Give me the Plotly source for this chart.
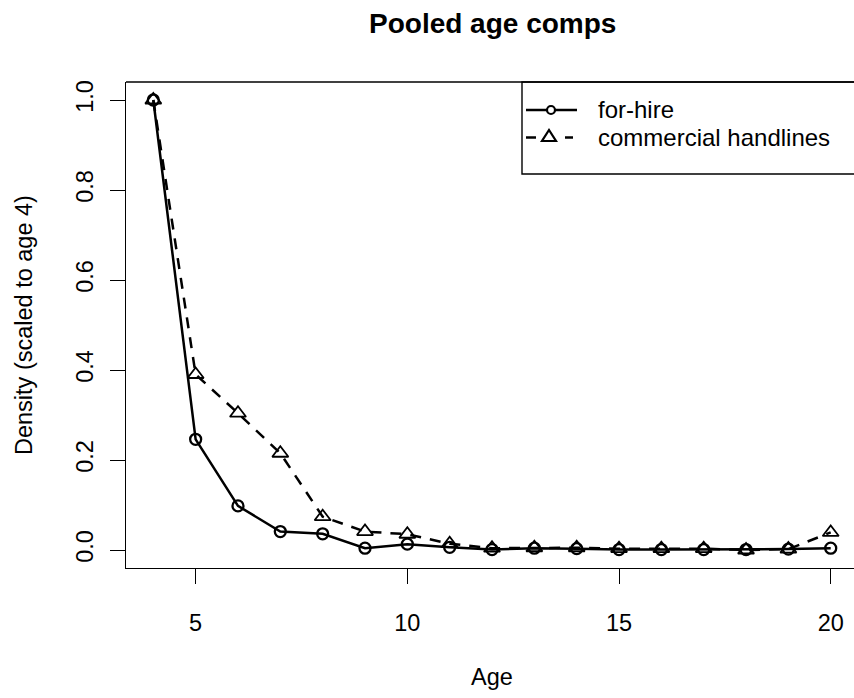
import plotly.graph_objects as go

ages = list(range(4, 21))
for_hire = [1.0, 0.246, 0.098, 0.041, 0.036, 0.004, 0.013, 0.006, 0.001,
            0.004, 0.003, 0.001, 0.001, 0.001, 0.001, 0.002, 0.004]
commercial = [1.0, 0.390, 0.304, 0.215, 0.074, 0.041, 0.035, 0.014, 0.004,
              0.005, 0.005, 0.003, 0.003, 0.003, 0.000, 0.002, 0.039]
series_names = ["for-hire", "commercial handlines"]
x_ticks = [5, 10, 15, 20]
y_ticks = [0.0, 0.2, 0.4, 0.6, 0.8, 1.0]
y_tick_text = ["0.0", "0.2", "0.4", "0.6", "0.8", "1.0"]

W, H = 854, 698
L, R, T, B = 126, 0, 82, 130
PW, PH = W - L - R, H - T - B
FONT = "Liberation Sans, Arial, Helvetica, sans-serif"

def px(x):
    return (x - L) / PW

def py(y):
    return (T + PH - y) / PH

fig = go.Figure()
fig.add_trace(go.Scatter(
    x=ages, y=for_hire, mode="lines+markers", name=series_names[0],
    line=dict(color="black", width=2.5),
    marker=dict(symbol="circle-open", size=11, color="black", line=dict(width=2.3)),
    showlegend=False, cliponaxis=False))
fig.add_trace(go.Scatter(
    x=ages, y=commercial, mode="lines+markers", name=series_names[1],
    line=dict(color="black", width=2.5, dash="11px,9px"),
    marker=dict(symbol="triangle-up-open", size=14, color="black", line=dict(width=1.8)),
    showlegend=False, cliponaxis=False))

shapes = []
# top frame line
shapes.append(dict(type="line", xref="paper", yref="paper", x0=0, x1=1.02, y0=1, y1=1,
                   line=dict(color="black", width=1.4)))
# legend box
shapes.append(dict(type="rect", xref="paper", yref="paper", x0=px(522), x1=1.05,
                   y0=py(174), y1=1, line=dict(color="black", width=1.4)))
# legend symbol lines
shapes.append(dict(type="line", xref="paper", yref="paper", x0=px(526), x1=px(577),
                   y0=py(110), y1=py(110), line=dict(color="black", width=2.5)))
shapes.append(dict(type="line", xref="paper", yref="paper", x0=px(526), x1=px(536),
                   y0=py(137.5), y1=py(137.5), line=dict(color="black", width=2.5)))
shapes.append(dict(type="line", xref="paper", yref="paper", x0=px(565), x1=px(573),
                   y0=py(137.5), y1=py(137.5), line=dict(color="black", width=2.5)))
# legend markers
shapes.append(dict(type="circle", xref="paper", yref="paper", xsizemode="pixel", ysizemode="pixel",
                   xanchor=px(551), yanchor=py(110), x0=-4, x1=4, y0=-4, y1=4,
                   fillcolor="white", line=dict(color="black", width=2.2)))
shapes.append(dict(type="path", xref="paper", yref="paper", xsizemode="pixel", ysizemode="pixel",
                   xanchor=px(549), yanchor=py(137.5),
                   path="M -7 -3.5 L 7 -3.5 L 0 7.5 Z",
                   fillcolor="white", line=dict(color="black", width=2.2)))

annotations = [
    dict(text="<b>Pooled age comps</b>", xref="paper", yref="paper", x=px(492), y=py(23),
         xanchor="center", yanchor="middle", showarrow=False,
         font=dict(family=FONT, size=28, color="black")),
    dict(text="Age", xref="paper", yref="paper", x=px(492), y=py(677),
         xanchor="center", yanchor="middle", showarrow=False,
         font=dict(family=FONT, size=23.5, color="black")),
    dict(text="Density (scaled to age 4)", xref="paper", yref="paper", x=px(24), y=py(325),
         xanchor="center", yanchor="middle", showarrow=False, textangle=-90,
         font=dict(family=FONT, size=23.5, color="black")),
    dict(text=series_names[0], xref="paper", yref="paper", x=px(596), y=py(110),
         xanchor="left", yanchor="middle", showarrow=False,
         font=dict(family=FONT, size=24, color="black")),
    dict(text=series_names[1], xref="paper", yref="paper", x=px(596), y=py(137.5),
         xanchor="left", yanchor="middle", showarrow=False,
         font=dict(family=FONT, size=24, color="black")),
]

fig.update_layout(
    width=W, height=H,
    margin=dict(l=L, r=R, t=T, b=B, pad=0),
    paper_bgcolor="white", plot_bgcolor="white",
    font=dict(family=FONT, size=23.5, color="black"),
    shapes=shapes, annotations=annotations,
    xaxis=dict(range=[3.355, 20.55], tickvals=x_ticks, ticks="outside", ticklen=15,
               tickwidth=1.2, tickcolor="black", showline=True, linecolor="black",
               linewidth=1.4, showgrid=False, zeroline=False, ticklabelstandoff=19,
               tickfont=dict(family=FONT, size=23.5, color="black")),
    yaxis=dict(range=[-0.04, 1.04], tickvals=y_ticks, ticktext=y_tick_text, ticks="outside",
               ticklen=15, tickwidth=1.2, tickcolor="black", showline=True, linecolor="black",
               linewidth=1.4, showgrid=False, zeroline=False, tickangle=-90,
               ticklabelstandoff=7,
               tickfont=dict(family=FONT, size=23.5, color="black")),
)

fig.write_html(
    "out.html",
    config={"displayModeBar": False},
    post_script="document.body.style.margin='0';document.body.style.padding='0';"
                "document.body.style.overflow='hidden';",
)
